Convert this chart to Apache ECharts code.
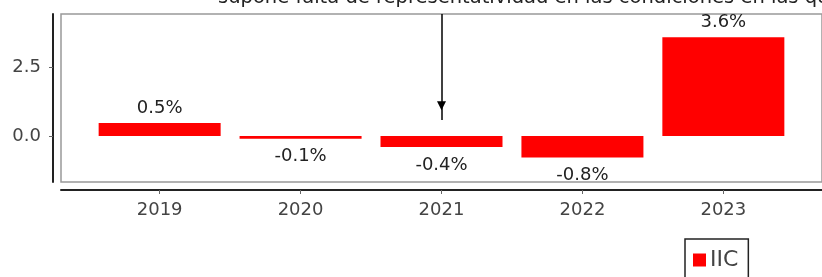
<!DOCTYPE html>
<html>
<head>
<meta charset="utf-8">
<script src="https://cdn.jsdelivr.net/npm/echarts@6/dist/echarts.min.js"></script>
<style>
html,body{margin:0;padding:0;background:#fff;}
#chart{width:822px;height:277px;}
</style>
</head>
<body>
<div id="chart"></div>
<script>
var categories = ['2019', '2020', '2021', '2022', '2023'];
var iicValues = [0.47, -0.1, -0.4, -0.78, 3.58];
var yTickValues = [0, 2.5];
var seriesName = 'IIC';
var titleText = 'supone falta de representatividad en las condiciones en las que';
var arrowTop = 4.42;
var arrowBottom = 0.58;
var arrowHead = 1.09;

var chart = echarts.init(document.getElementById('chart'), null, {renderer: 'canvas'});
var FONT = 'DejaVu Sans';
var data = iicValues.map(function (v, i) {
  return {
    value: [i, v],
    label: {position: v >= 0 ? 'top' : 'bottom', distance: v >= 0 ? 6 : 9}
  };
});
var option = {
  animation: false,
  backgroundColor: '#fff',
  textStyle: {fontFamily: FONT},
  graphic: [{
    type: 'text', left: 218, top: -12, silent: true,
    style: {text: titleText, fontSize: 19.5, fontFamily: FONT, fill: '#222'}
  }],
  legend: {
    left: 685, top: 239,
    padding: [10, 10, 10, 8],
    borderColor: '#222', borderWidth: 1.5,
    itemWidth: 13, itemHeight: 13, itemGap: 5,
    icon: 'rect',
    textStyle: {fontSize: 22, color: '#444', fontFamily: FONT, padding: [0, 0, 0, -1]},
    data: [seriesName]
  },
  grid: {
    left: 61, top: 14, width: 765, height: 168,
    show: true, borderColor: '#999', borderWidth: 1.5, backgroundColor: 'transparent'
  },
  xAxis: {
    type: 'value', min: -0.7, max: 4.7, offset: 8,
    splitLine: {show: false},
    axisLine: {show: true, onZero: false, lineStyle: {color: '#222', width: 2}},
    axisTick: {show: true, length: 4, lineStyle: {color: '#666'}, customValues: [0, 1, 2, 3, 4]},
    axisLabel: {
      customValues: [0, 1, 2, 3, 4], margin: 11, fontSize: 18, color: '#444', fontFamily: FONT,
      formatter: function (v) { return categories[Math.round(v)]; }
    }
  },
  yAxis: {
    type: 'value', min: -1.67, max: 4.42, offset: 8,
    splitLine: {show: false},
    axisLine: {show: true, onZero: false, lineStyle: {color: '#222', width: 2}},
    axisTick: {show: true, length: 4, lineStyle: {color: '#666'}, customValues: yTickValues},
    axisLabel: {
      customValues: yTickValues, margin: 12, fontSize: 18, color: '#444', fontFamily: FONT,
      formatter: function (v) { return v.toFixed(1); }
    }
  },
  series: [{
    name: seriesName,
    type: 'bar',
    barWidth: 122,
    itemStyle: {color: '#ff0000'},
    label: {
      show: true, fontSize: 18, color: '#222', fontFamily: FONT,
      formatter: function (p) { return p.value[1].toFixed(1) + '%'; }
    },
    data: data,
    markLine: {
      silent: true, symbol: ['none', 'none'], animation: false,
      label: {show: false},
      lineStyle: {color: '#000', width: 1.5, type: 'solid'},
      data: [[{coord: [2, arrowTop]}, {coord: [2, arrowBottom]}]]
    },
    markPoint: {
      silent: true, animation: false,
      symbol: 'triangle', symbolSize: [9, 9], symbolRotate: 180,
      itemStyle: {color: '#000'},
      label: {show: false},
      data: [{coord: [2, arrowHead]}]
    }
  }]
};
chart.setOption(option);
</script>
</body>
</html>
